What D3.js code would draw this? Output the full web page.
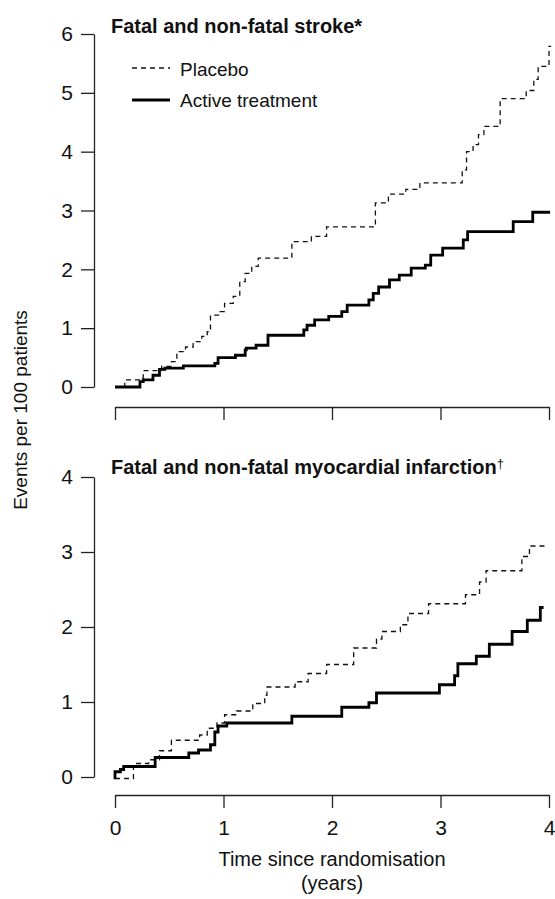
<!DOCTYPE html>
<html>
<head>
<meta charset="utf-8">
<script src="https://cdn.jsdelivr.net/npm/d3@7"></script>
<style>
  body { margin: 0; background: #fff; }
  svg text { font-family: "Liberation Sans", Arial, sans-serif; fill: #111; }
</style>
</head>
<body>
<div id="chart"></div>
<script>
// x ticks (years)
const yearTicks = [0, 1, 2, 3, 4];
const strokeTicks = [0, 1, 2, 3, 4, 5, 6];
const miTicks = [0, 1, 2, 3, 4];

// Fatal and non-fatal stroke, placebo (step times, events per 100)
const strokePlaceboT = [0, 0.09, 0.26, 0.43, 0.52, 0.57, 0.65, 0.72, 0.8, 0.85, 0.88, 0.97, 1.01, 1.09, 1.15, 1.2, 1.26, 1.32, 1.63, 1.81, 1.95, 2.4, 2.52, 2.68, 2.81, 3.2, 3.24, 3.3, 3.35, 3.4, 3.55, 3.79, 3.86, 3.9, 4.0, 4.02];
const strokePlaceboV = [0, 0.12, 0.28, 0.35, 0.43, 0.6, 0.68, 0.77, 0.86, 0.94, 1.22, 1.28, 1.42, 1.54, 1.79, 1.93, 2.05, 2.19, 2.47, 2.56, 2.72, 3.13, 3.28, 3.36, 3.47, 3.69, 4.0, 4.12, 4.29, 4.43, 4.9, 5.04, 5.23, 5.45, 5.79, 5.79];

// Fatal and non-fatal stroke, active treatment
const strokeActiveT = [0, 0.23, 0.26, 0.35, 0.41, 0.46, 0.63, 0.92, 0.95, 1.11, 1.2, 1.21, 1.3, 1.41, 1.74, 1.77, 1.84, 1.97, 2.09, 2.14, 2.34, 2.38, 2.43, 2.53, 2.62, 2.73, 2.86, 2.91, 3.02, 3.21, 3.25, 3.67, 3.85, 4.01];
const strokeActiveV = [0, 0.09, 0.12, 0.2, 0.3, 0.32, 0.36, 0.4, 0.5, 0.54, 0.63, 0.66, 0.71, 0.88, 0.97, 1.05, 1.14, 1.2, 1.28, 1.39, 1.48, 1.59, 1.7, 1.82, 1.9, 2.02, 2.07, 2.24, 2.36, 2.5, 2.64, 2.81, 2.97, 2.97];

// Fatal and non-fatal myocardial infarction, placebo
const miPlaceboT = [0, 0.17, 0.31, 0.41, 0.52, 0.78, 0.85, 0.94, 1.01, 1.12, 1.27, 1.38, 1.4, 1.66, 1.78, 1.95, 2.2, 2.41, 2.46, 2.63, 2.7, 2.89, 3.23, 3.36, 3.42, 3.75, 3.82, 3.98];
const miPlaceboV = [-0.02, 0.18, 0.23, 0.35, 0.49, 0.56, 0.65, 0.72, 0.83, 0.88, 0.98, 1.09, 1.2, 1.27, 1.38, 1.5, 1.72, 1.84, 1.94, 2.03, 2.18, 2.31, 2.43, 2.6, 2.75, 2.94, 3.08, 3.08];

// Fatal and non-fatal myocardial infarction, active treatment
const miActiveT = [0, 0, 0.05, 0.08, 0.37, 0.68, 0.77, 0.88, 0.92, 0.95, 1.03, 1.63, 2.09, 2.34, 2.41, 2.99, 3.13, 3.16, 3.33, 3.45, 3.66, 3.8, 3.92, 3.95];
const miActiveV = [-0.03, 0.07, 0.1, 0.14, 0.26, 0.32, 0.36, 0.43, 0.6, 0.68, 0.72, 0.81, 0.93, 0.99, 1.12, 1.23, 1.35, 1.51, 1.61, 1.77, 1.94, 2.09, 2.26, 2.26];

const W = 555, H = 899;
const FONT = "'Liberation Sans', Arial, sans-serif";

const svg = d3.select("#chart")
    .append("svg")
    .attr("width", W)
    .attr("height", H);

const x = d3.scaleLinear().domain([0, 4]).range([115, 549]);

const zip = (t, v) => t.map((d, i) => [d, v[i]]);

function drawPanel(cfg) {
    const y = d3.scaleLinear().domain([0, cfg.max]).range([cfg.y0, cfg.yTop]);
    const g = svg.append("g");

    // y axis on the left
    const ya = g.append("g")
        .attr("transform", "translate(94,0)")
        .call(d3.axisLeft(y).tickValues(cfg.ticks).tickSize(13).tickSizeOuter(0).tickPadding(8).tickFormat(d3.format("d")));
    ya.selectAll("path, line").attr("stroke", "#222").attr("stroke-width", 1.3);
    ya.selectAll("text").attr("font-size", 21).attr("fill", "#111").style("font-family", FONT);

    // x axis under the panel
    const xa = g.append("g")
        .attr("transform", "translate(0," + cfg.axisY + ")")
        .call(d3.axisBottom(x).tickValues(yearTicks).tickSize(13).tickSizeOuter(0).tickPadding(12)
            .tickFormat(cfg.labels ? d3.format("d") : ""));
    xa.selectAll("path, line").attr("stroke", "#222").attr("stroke-width", 1.3);
    xa.selectAll("text").attr("font-size", 21).attr("fill", "#111").style("font-family", FONT);

    const line = d3.line()
        .x(d => x(d[0]))
        .y(d => y(d[1]))
        .curve(d3.curveStepAfter);

    g.append("path")
        .datum(zip(cfg.placeboT, cfg.placeboV))
        .attr("fill", "none")
        .attr("stroke", "#111")
        .attr("stroke-width", 1.3)
        .attr("stroke-dasharray", "5,4")
        .attr("d", line);

    g.append("path")
        .datum(zip(cfg.activeT, cfg.activeV))
        .attr("fill", "none")
        .attr("stroke", "#000")
        .attr("stroke-width", 2.8)
        .attr("d", line);

    const title = g.append("text")
        .attr("x", 111)
        .attr("y", cfg.titleY)
        .attr("font-size", 20)
        .attr("font-weight", "bold")
        .text(cfg.title);
    if (cfg.mark) {
        title.append("tspan")
            .attr("font-size", 13)
            .attr("font-weight", "normal")
            .attr("dy", -6)
            .text(cfg.mark);
    }
}

drawPanel({
    title: "Fatal and non-fatal stroke*", titleY: 33,
    max: 6, ticks: strokeTicks, y0: 387, yTop: 34, axisY: 407, labels: false,
    placeboT: strokePlaceboT, placeboV: strokePlaceboV,
    activeT: strokeActiveT, activeV: strokeActiveV
});

drawPanel({
    title: "Fatal and non-fatal myocardial infarction", mark: "†", titleY: 474,
    max: 4, ticks: miTicks, y0: 777, yTop: 477, axisY: 795, labels: true,
    placeboT: miPlaceboT, placeboV: miPlaceboV,
    activeT: miActiveT, activeV: miActiveV
});

// legend
const legend = svg.append("g");
legend.append("line")
    .attr("x1", 132).attr("x2", 170).attr("y1", 68).attr("y2", 68)
    .attr("stroke", "#111").attr("stroke-width", 1.3).attr("stroke-dasharray", "5,4");
legend.append("text").attr("x", 180).attr("y", 76).attr("font-size", 19).text("Placebo");
legend.append("line")
    .attr("x1", 132).attr("x2", 170).attr("y1", 100).attr("y2", 100)
    .attr("stroke", "#000").attr("stroke-width", 2.8);
legend.append("text").attr("x", 180).attr("y", 107).attr("font-size", 19).text("Active treatment");

// axis titles
svg.append("text")
    .attr("transform", "translate(27,410) rotate(-90)")
    .attr("text-anchor", "middle")
    .attr("font-size", 19)
    .text("Events per 100 patients");

svg.append("text")
    .attr("x", 332).attr("y", 866)
    .attr("text-anchor", "middle")
    .attr("font-size", 20)
    .text("Time since randomisation");

svg.append("text")
    .attr("x", 332).attr("y", 890)
    .attr("text-anchor", "middle")
    .attr("font-size", 20)
    .text("(years)");
</script>
</body>
</html>
